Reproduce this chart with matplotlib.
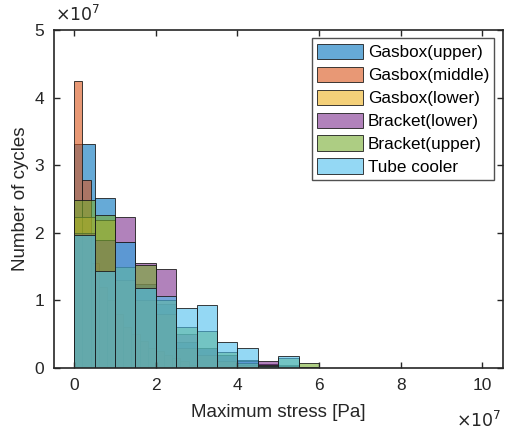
import numpy as np
import matplotlib
matplotlib.use('Agg')
import matplotlib.pyplot as plt
from matplotlib.colors import to_rgba
from matplotlib.ticker import FuncFormatter

plt.rcParams['font.family'] = ['Liberation Sans', 'DejaVu Sans']

# ------------------------------ data (cycles per stress bin, x1e7) ------------------------------
bin_edges = np.arange(0, 6.01e7, 0.5e7)          # [Pa], common bins
fine_edges = np.arange(0, 3.01e7, 0.2e7)         # [Pa], Gasbox(middle) bins

gasbox_upper  = [3.32, 2.52, 1.87, 1.25, 0.95, 0.39, 0.30, 0.20, 0.12, 0.06, 0.04, 0.00]
gasbox_middle = [4.25, 2.78, 1.55, 1.20, 1.00, 0.80, 0.60, 0.50, 0.40, 0.30, 0.25, 0.20, 0.15, 0.10, 0.05]
gasbox_lower  = [2.24, 2.19, 1.30, 1.00, 0.80, 0.30, 0.20, 0.10, 0.05, 0.02, 0.00, 0.00]
bracket_lower = [2.00, 1.90, 2.24, 1.55, 1.47, 0.50, 0.30, 0.20, 0.10, 0.11, 0.03, 0.00]
bracket_upper = [2.49, 2.27, 1.50, 1.53, 1.00, 0.60, 0.55, 0.24, 0.08, 0.05, 0.15, 0.07]
tube_cooler   = [1.97, 1.44, 1.86, 1.18, 1.07, 0.89, 0.93, 0.38, 0.29, 0.03, 0.18, 0.02]

labels = ['Gasbox(upper)', 'Gasbox(middle)', 'Gasbox(lower)',
          'Bracket(lower)', 'Bracket(upper)', 'Tube cooler']
series = [gasbox_upper, gasbox_middle, gasbox_lower, bracket_lower, bracket_upper, tube_cooler]
edges  = [bin_edges, fine_edges, bin_edges, bin_edges, bin_edges, bin_edges]
colours = ['#0072BD', '#D95319', '#EDB120', '#7E2F8E', '#77AC30', '#4DBEEE']

# ------------------------------------- plotting --------------------------------------------
fig = plt.figure(figsize=(5.13, 4.33), dpi=100)
ax = fig.add_axes([0.105, 0.150, 0.875, 0.781])

handles = []
for vals, e, c, lab in zip(series, edges, colours, labels):
    counts = np.array(vals) * 1e7
    h = ax.bar(e[:-1], counts, width=np.diff(e), align='edge',
               facecolor=to_rgba(c, 0.6), edgecolor=(0.1, 0.1, 0.1, 0.85),
               linewidth=0.7, label=lab)
    handles.append(h)

ax.set_xlim(-0.5e7, 10.5e7)
ax.set_ylim(0, 5e7)
ax.set_xticks(np.arange(0, 10.1e7, 2e7))
ax.set_yticks(np.arange(0, 5.1e7, 1e7))
fmt = FuncFormatter(lambda v, p: f'{v/1e7:g}')
ax.xaxis.set_major_formatter(fmt)
ax.yaxis.set_major_formatter(fmt)
ax.tick_params(direction='in', length=4, width=1, top=True, right=True,
               labelsize=12.5, pad=7, colors='#262626', labelcolor='#262626')
for s in ax.spines.values():
    s.set_linewidth(1.2)
    s.set_color('#262626')

ax.set_xlabel('Maximum stress [Pa]', fontsize=13.5, color='#262626', labelpad=8)
ax.set_ylabel('Number of cycles', fontsize=13.5, color='#262626', labelpad=4)

# exponent labels as in the original
fig.text(0.108, 0.945, r'$\times10^{7}$', fontsize=12.5,
         ha='left', va='bottom', color='#262626', math_fontfamily='dejavusans')
fig.text(0.978, 0.006, r'$\times10^{7}$', fontsize=12.5,
         ha='right', va='bottom', color='#262626', math_fontfamily='dejavusans')

leg = ax.legend(handles=handles, loc='upper right', fontsize=12.3,
                frameon=True, fancybox=False, edgecolor='#262626',
                handlelength=2.7, handleheight=1.0, handletextpad=0.25,
                labelspacing=0.38, borderpad=0.3, borderaxespad=0.5)
leg.get_frame().set_linewidth(1.0)

plt.savefig('out.png', dpi=100)
plt.close()
